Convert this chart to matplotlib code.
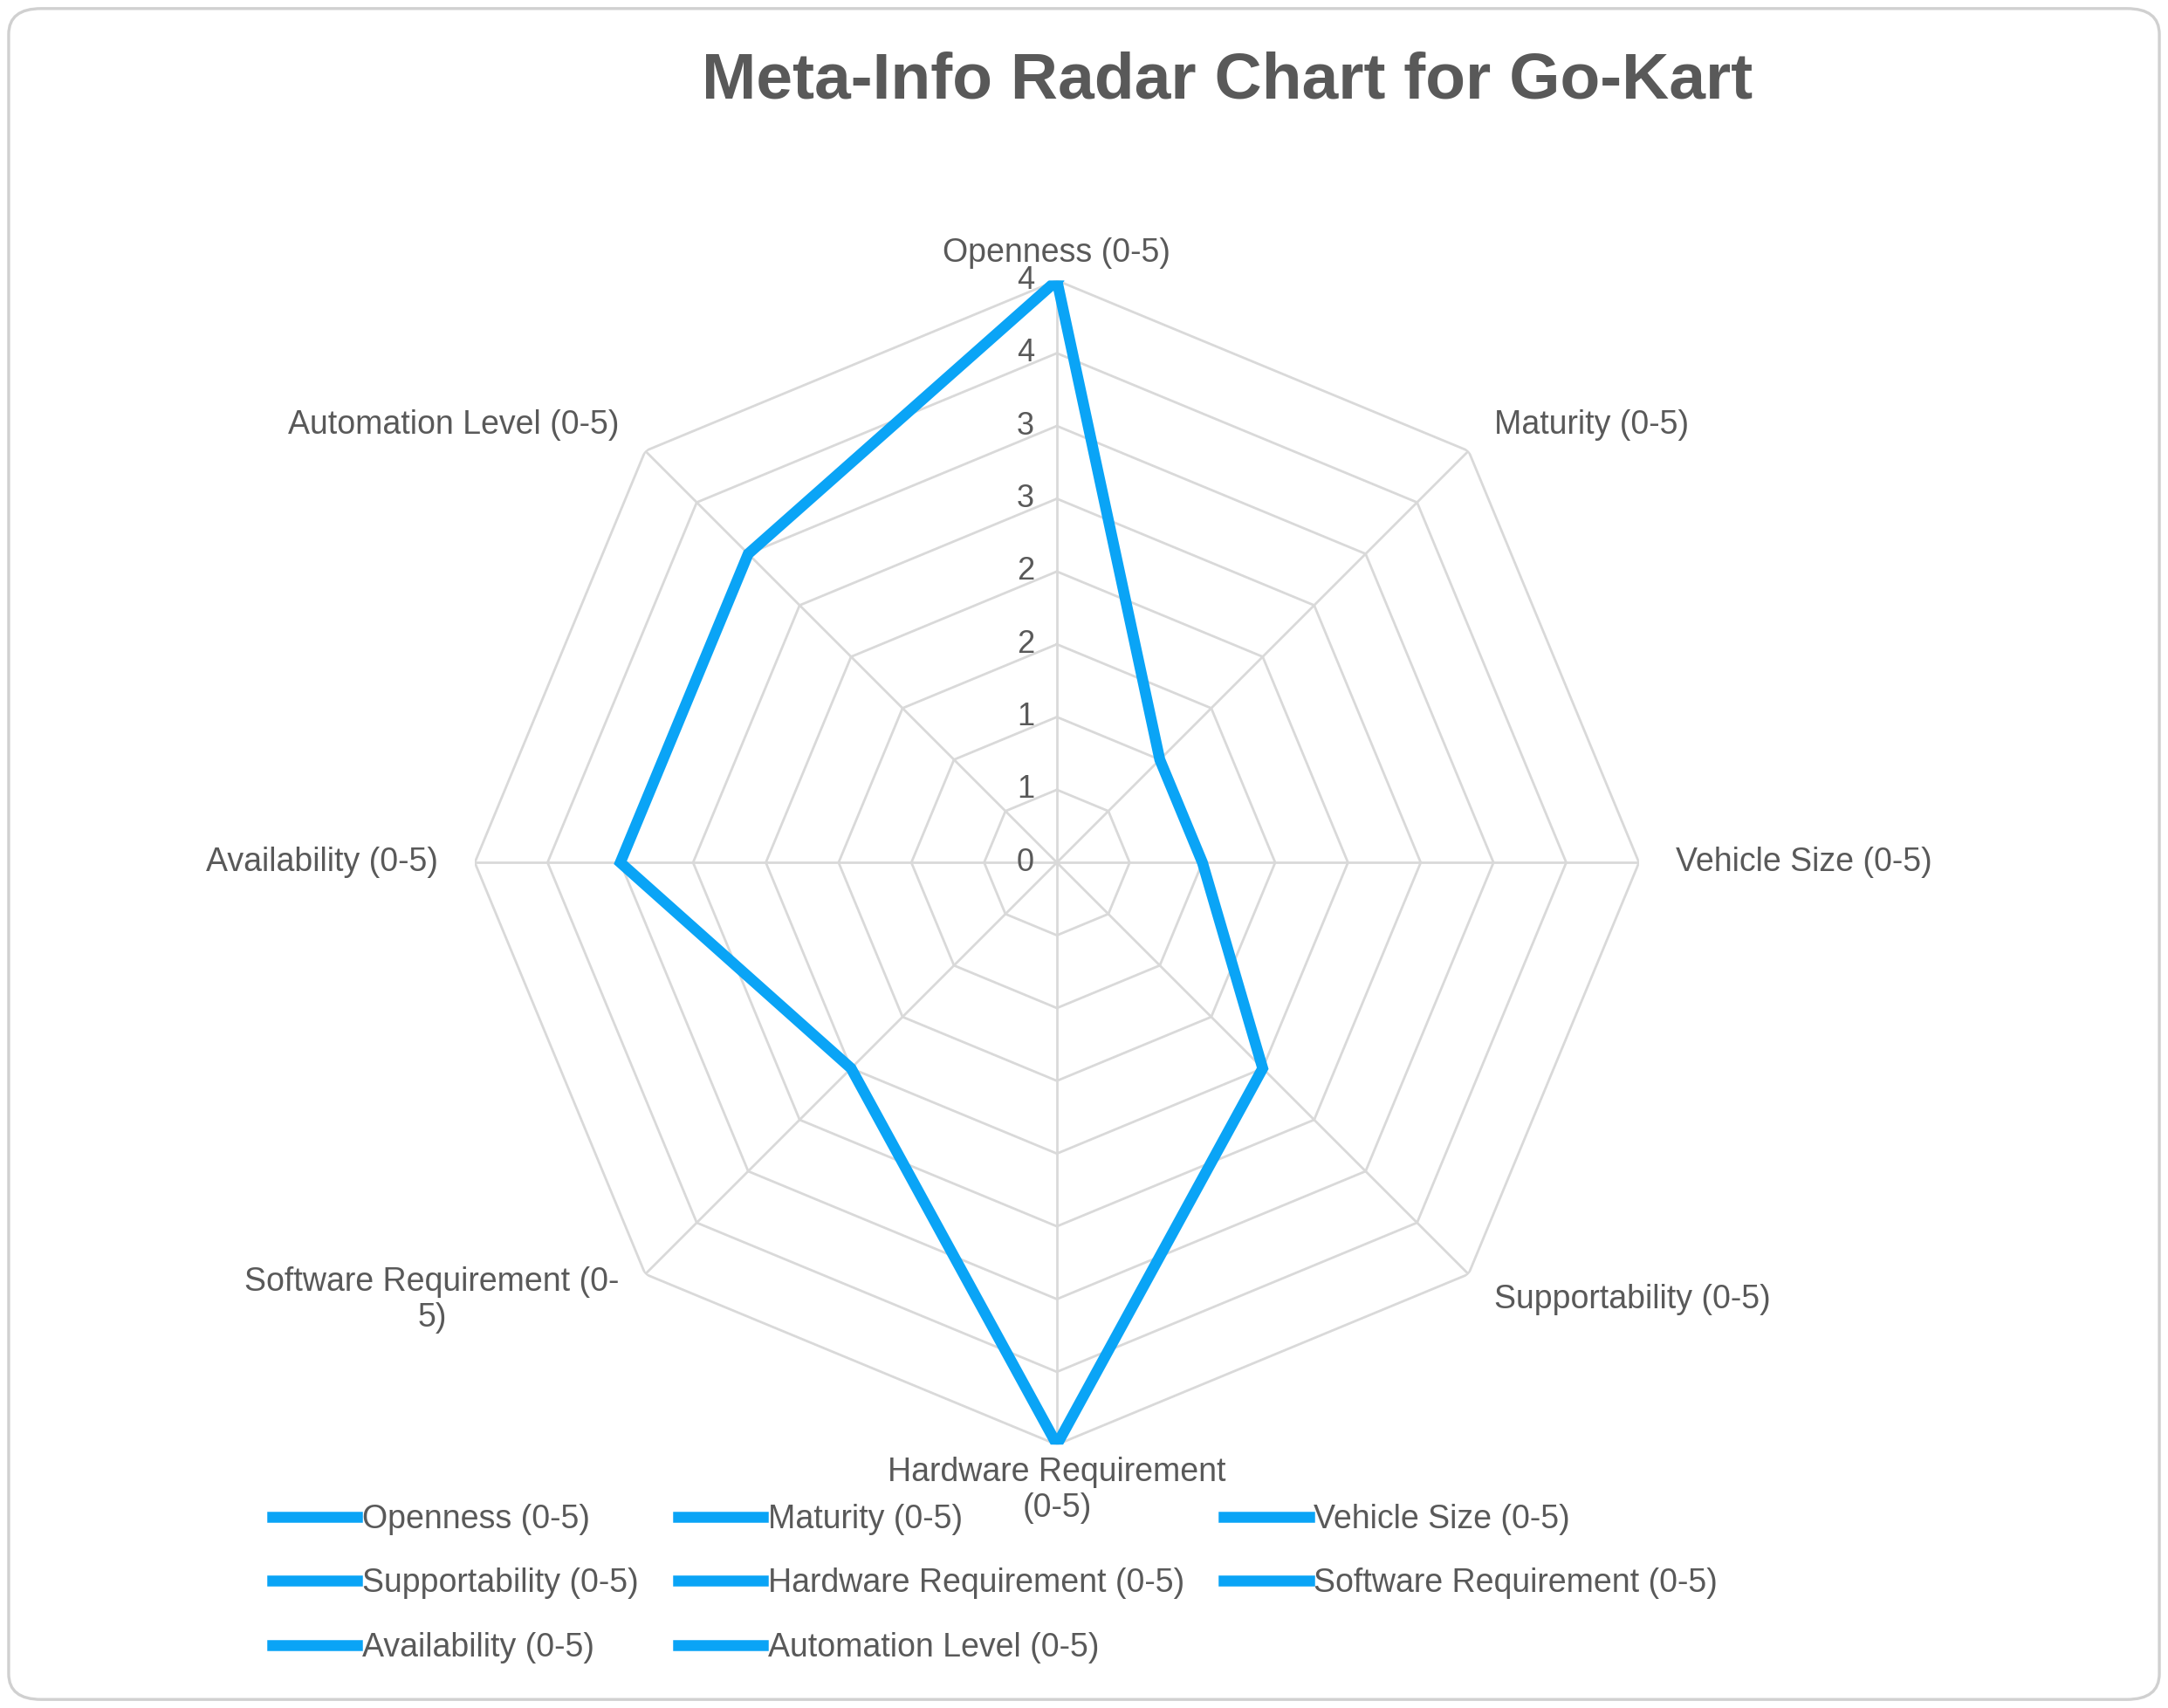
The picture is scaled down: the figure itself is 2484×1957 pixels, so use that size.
import numpy as np
import matplotlib.pyplot as plt
from matplotlib.patches import FancyBboxPatch
from matplotlib.lines import Line2D
import matplotlib.transforms as mtrans

# Data
categories = ["Openness (0-5)", "Maturity (0-5)", "Vehicle Size (0-5)",
              "Supportability (0-5)", "Hardware Requirement (0-5)",
              "Software Requirement (0-5)", "Availability (0-5)",
              "Automation Level (0-5)"]
values = [4, 1, 1, 2, 4, 2, 3, 3]
ring_levels = [0.5, 1.0, 1.5, 2.0, 2.5, 3.0, 3.5, 4.0]
tick_values = [0, 0.5, 1.0, 1.5, 2.0, 2.5, 3.0, 3.5, 4.0]
tick_labels = ["0", "1", "1", "2", "2", "3", "3", "4", "4"]
axis_labels = ["Openness (0-5)", "Maturity (0-5)", "Vehicle Size (0-5)",
               "Supportability (0-5)", "Hardware Requirement\n(0-5)",
               "Software Requirement (0-\n5)", "Availability (0-5)",
               "Automation Level (0-5)"]

color = "#0aa4f6"
text_color = "#595959"
grid_color = "#d9d9d9"

plt.rcParams['font.family'] = ['Liberation Sans', 'DejaVu Sans']

fig = plt.figure(figsize=(12.42, 9.785), dpi=200)
fig.patches.append(FancyBboxPatch((0.004, 0.005), 0.992, 0.99, boxstyle="round,pad=0,rounding_size=0.015",
                                  transform=fig.transFigure, fc="white", ec="#d0d0d0", lw=1.2, zorder=-10))

ax = fig.add_axes([0.219, 0.154, 0.537, 0.682], projection="polar")
ax.set_zorder(1)
ax.set_theta_offset(np.pi / 2)
ax.set_theta_direction(-1)
ax.set_ylim(0, 4)
ax.grid(False)
ax.spines["polar"].set_visible(False)
ax.set_xticks([])
ax.set_yticks([])
ax.patch.set_alpha(0)

n = len(categories)
angles = np.linspace(0, 2 * np.pi, n, endpoint=False)
closed = np.append(angles, angles[0])

for r in ring_levels:
    ax.plot(closed, [r] * (n + 1), color=grid_color, lw=1.0, zorder=1)
for a in angles:
    ax.plot([a, a], [0, 4], color=grid_color, lw=1.0, zorder=1)

ax.plot(closed, values + values[:1], color=color, lw=4.5, zorder=3, solid_joinstyle="miter")

# radial tick labels along the top axis
off = mtrans.offset_copy(ax.transData, fig=fig, x=-0.18, y=0, units="inches")
for v, t in zip(tick_values, tick_labels):
    ax.text(0, v, t, transform=off, ha="center", va="center", fontsize=13, color=text_color)

# category labels
for a, lab in zip(angles, axis_labels):
    s = np.sin(a)
    c = np.cos(a)
    ha = "center" if abs(s) < 0.1 else ("left" if s > 0 else "right")
    va = "center"
    if abs(s) < 0.1:
        va = "bottom" if c > 0 else "top"
    r = 4.25 if abs(s) > 0.1 else 4.08
    ax.text(a, r, lab, ha=ha, va=va, fontsize=13.5, color=text_color,
            multialignment="center", zorder=4)

fig.text(0.566, 0.97, "Meta-Info Radar Chart for Go-Kart", ha="center", va="top",
         fontsize=27, fontweight="bold", color=text_color)

handles = [Line2D([0], [0], color=color, lw=4.5) for _ in categories]
order = [0, 3, 6, 1, 4, 7, 2, 5]
leg_handles = [handles[i] for i in order]
leg_labels = [categories[i] for i in order]
leg = fig.legend(leg_handles, leg_labels, ncol=3, loc="upper left", bbox_to_anchor=(0.112, 0.137),
                 frameon=False, fontsize=13.5, handlelength=2.6, handletextpad=0.15,
                 columnspacing=1.2, labelspacing=1.0)
for t in leg.get_texts():
    t.set_color(text_color)
# align legend columns like the reference (fixed column widths)
fig.canvas.draw()
cols = leg._legend_handle_box.get_children()
for col in cols:
    col.width = None

fig.savefig("out.png", dpi=200)
